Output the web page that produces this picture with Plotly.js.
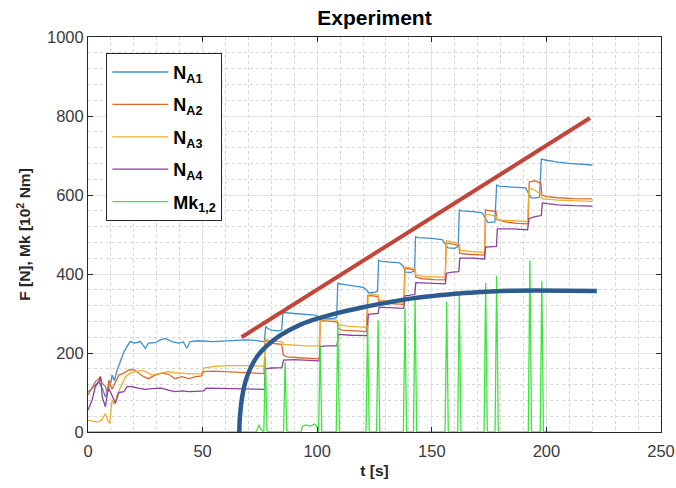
<!DOCTYPE html>
<html>
<head>
<meta charset="utf-8">
<script src="https://cdn.plot.ly/plotly-3.0.1.min.js"></script>
<style>html,body{margin:0;padding:0;background:#fff;}#chart{width:676px;height:488px;}</style>
</head>
<body>
<div id="chart"></div>
<script>
// ---- data (time in s, values in N / 10^2 Nm) ----
const seriesNames = ["N<sub>A1</sub>", "N<sub>A2</sub>", "N<sub>A3</sub>", "N<sub>A4</sub>", "Mk<sub>1,2</sub>"];

const tA1 = [0,1.5,2.5,3.5,4.7,5.5,6.2,7.6,8.5,9.1,10,10.5,11.5,12.7,14.2,15.7,17,18.4,20.6,22.8,24,25,26.4,29.3,31.5,33.7,36.6,39.5,41.6,43.1,44.6,48,54.4,60,65,69,73,76.3,
  77,77.5,78.5,80,83,84.5,85,86,90,95,99,100.5,101.5,104,107,108.5,109,110,115,120,121.5,122.5,125,126.3,126.8,128,132,136,137.5,138.5,141,142.5,142.9,144,150,154.5,156,157,160,161.5,162,163,168,172,173.5,174.5,177.5,178.3,180,186,191,192.5,193.5,197,197.8,200,205,210,215,220];
const yA1 = [102,108,115,120,127,118,111,89,100,115,125,144,130,157,182,203,216,229,225,229,220,212,225,226,233,237,229,225,228,212,229,231,229,231,232,233,232,229,
  231,267,262,258,256,258,300,302,300,298,296,292,288,288,287,290,377,375,370,366,360,352,354,356,435,432,430,428,420,405,404,408,494,492,490,487,475,466,465,470,562,560,558,555,540,530,532,625,622,620,618,600,592,594,691,688,683,680,678,676];

const tA2 = [0,1.5,3.2,4.7,5.3,6.2,7.6,8.3,9.1,10.5,12,13.4,15.7,17.8,20,22,24.3,26.4,29.3,32.2,35.1,38,41,43.9,47,49.5,50.5,55,61,68,76,
  76.8,77.3,78.5,81,84.5,85.2,87,92,97,101,101.3,103,106,108.8,109.2,111,116,121.5,122,124,126.5,126.9,130,134,137.8,138.2,141,142.6,143,146,151,155.8,156.3,159,161.8,162.2,166,170,173,173.4,176,178,178.4,182,187,192,192.5,195,197.6,198,200,205,212,220];
const yA2 = [94,110,127,135,140,123,115,100,131,108,127,144,149,157,158,149,140,135,144,149,146,135,140,135,140,142,153,154,152,151,148,
  148,233,228,224,222,195,190,188,186,185,280,282,280,278,262,258,256,254,345,345,342,330,326,324,323,415,412,410,392,388,386,385,478,476,472,452,450,449,448,562,560,558,538,532,528,527,633,636,630,600,596,593,591,590];

const tA3 = [0,2,4,6,7.6,8.5,9.5,10.5,11.5,12.7,14.9,16.3,18.4,20.6,24,27.9,32,35,38,42,45,49.5,50.5,55,62,70,76,
  76.9,77.4,79,82,84.6,85.3,90,95,100.8,101.4,104,108.6,109.3,113,118,121.8,122.3,124,126.6,127,131,136,138,138.4,142.7,143.1,148,155.9,156.4,160,162,162.4,167,173.1,173.6,177,178.2,178.6,184,191.8,192.4,195,197.8,198.2,205,212,220];
const yA3 = [30,28,25,30,47,30,22,81,70,94,123,140,149,153,156,144,149,153,150,149,147,148,162,166,168,168,167,
  167,236,232,230,228,222,220,218,218,283,285,283,272,268,266,265,350,350,347,335,330,328,328,418,414,397,393,392,484,480,476,460,457,455,552,548,545,537,535,533,618,612,600,590,587,585,584];

const tA4 = [0,1.8,3.2,4.7,5.5,6.2,7.6,8.5,9.1,10.5,12,13.4,15.7,17,19,22,25,28,32,35,38,41,44,47,50.5,51.5,60,70,76.5,
  77,77.4,80,84.6,85.3,90,95,100.8,101.4,104,108.6,109.3,115,121.8,122.3,125,126.6,127,132,137.8,138.3,142.6,143,150,155.9,156.4,159,161.8,162.2,168,173,173.5,177,178.2,178.6,185,191.8,192.4,195,197.8,198.2,205,212,220];
const yA4 = [56,81,115,127,140,89,64,100,110,90,73,100,102,115,115,111,108,110,111,106,102,104,102,103,104,111,110,109,108,
  108,160,162,163,182,183,181,180,216,218,218,247,245,244,298,300,300,316,314,313,345,348,378,376,375,402,405,406,440,440,438,468,470,470,514,514,512,540,545,548,580,575,573,572];

const tMk = [0,73.5,74.5,75.5,76.7,77.4,78.1,79,85.3,86,86.7,88,93,93.5,95,97,99,100,100.6,101.3,102,108.3,109,109.7,121.3,122,122.7,125.9,126.6,127.3,137.6,138.3,139,142,142.7,143.4,155.8,156.5,157.2,161.3,162,162.7,172.8,173.5,174.2,177.6,178.3,179,192.1,192.8,193.5,197.3,198,198.7,220];
const yMk = [0,0,18,6,0,190,4,0,0,177,3,0,0,14,18,15,20,12,0,220,0,0,279,0,0,271,0,0,283,0,0,313,0,0,338,0,0,330,0,0,352,0,0,377,0,0,395,0,0,434,0,0,383,0,0];

// hand-drawn overlays of the reference
const trendT = [67, 219];
const trendY = [240, 795];
const envT = [66, 66.3, 67.3, 68.8, 71, 74, 78, 84, 92, 100, 110, 120, 130, 140, 150, 160, 170, 180, 195, 222];
const envY = [0, 40, 90, 130, 163, 193, 218, 245, 270, 287, 303, 316, 327, 337, 344, 350, 354, 357, 358, 357];

const xTicks = [0, 50, 100, 150, 200, 250];
const yTicks = [0, 200, 400, 600, 800, 1000];

// ---- styling ----
const colors = ["#3f8fcf", "#e0682c", "#efb030", "#8a3f9a", "#3fe43f"];
const fontFam = "Liberation Sans, Arial, sans-serif";

function dataTrace(t, y, i) {
  return {x: t, y: y, type: "scatter", mode: "lines", name: seriesNames[i],
          legendgroup: "g" + i, line: {color: colors[i], width: 1.3}};
}
const traces = [
  dataTrace(tA1, yA1, 0), dataTrace(tA2, yA2, 1), dataTrace(tA3, yA3, 2),
  dataTrace(tA4, yA4, 3), dataTrace(tMk, yMk, 4),
  {x: trendT, y: trendY, type: "scatter", mode: "lines", showlegend: false,
   line: {color: "#c3453a", width: 4}},
  {x: envT, y: envY, type: "scatter", mode: "lines", showlegend: false,
   line: {color: "#2d5b8f", width: 4.5, shape: "spline", smoothing: 0.8}}
];

const axisCommon = {
  showline: true, linecolor: "#262626", linewidth: 1, mirror: "ticks",
  ticks: "inside", ticklen: 5, tickcolor: "#262626",
  showgrid: true, gridcolor: "#e3e3e3", gridwidth: 1, zeroline: false,
  tickfont: {family: fontFam, size: 16.5, color: "#3a3a3a"}
};

const layout = {
  width: 676, height: 488,
  margin: {l: 88, r: 15, t: 37, b: 56},
  paper_bgcolor: "#fff", plot_bgcolor: "#fff",
  title: {text: "<b>Experiment</b>", xref: "paper", x: 0.5, xanchor: "center", yref: "container", y: 0.963, yanchor: "middle",
          font: {family: fontFam, size: 21, color: "#000"}},
  xaxis: Object.assign({}, axisCommon, {
    range: [0, 250], tickmode: "array", tickvals: xTicks, ticktext: xTicks.map(String),
    ticklabelstandoff: 4,
    minor: {dtick: 10, showgrid: true, griddash: "dot", gridcolor: "#d6d6d6", gridwidth: 1},
    title: {text: "<b>t [s]</b>", font: {family: fontFam, size: 15.5, color: "#262626"}, standoff: 6}
  }),
  yaxis: Object.assign({}, axisCommon, {
    range: [0, 1000], tickmode: "array", tickvals: yTicks, ticktext: yTicks.map(String),
    minor: {dtick: 40, showgrid: true, griddash: "dot", gridcolor: "#d6d6d6", gridwidth: 1},
    title: {text: "<b>F [N], Mk [10<sup>2</sup> Nm]</b>", font: {family: fontFam, size: 15.5, color: "#262626"}, standoff: 12}
  }),
  legend: {
    x: 0.032, y: 0.96, xanchor: "left", yanchor: "top",
    bgcolor: "#fff", bordercolor: "#262626", borderwidth: 1,
    font: {family: fontFam, size: 18, color: "#000", weight: "bold"},
    itemwidth: 56, tracegroupgap: 6, traceorder: "grouped"
  },
  showlegend: true
};

Plotly.newPlot("chart", traces, layout, {staticPlot: true, displayModeBar: false});
</script>
</body>
</html>
